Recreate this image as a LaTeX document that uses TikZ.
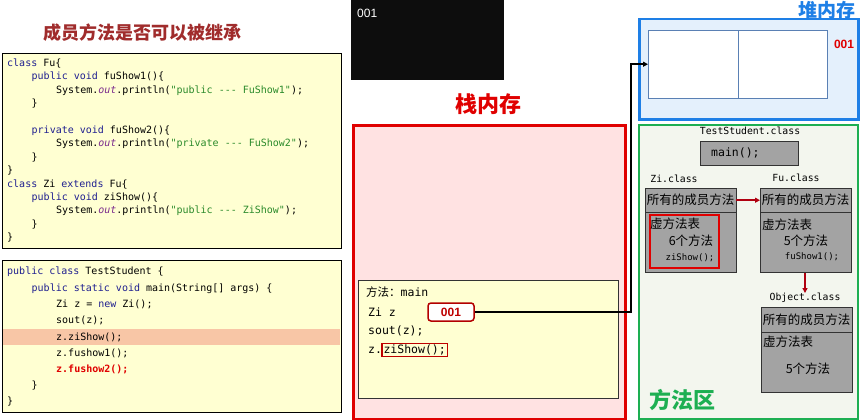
\documentclass[tikz,border=0pt]{standalone}
\usepackage{fontspec}
\setmainfont{Liberation Sans}
\setmonofont{DejaVu Sans Mono}
\newfontfamily\cjk{Noto Sans CJK SC}
\usepackage{xcolor}
\usetikzlibrary{arrows.meta, positioning, calc}

\definecolor{kwblue}{HTML}{202090}
\definecolor{strgreen}{HTML}{2A8A2A}
\definecolor{fldpurple}{HTML}{7A2A8C}
\definecolor{codebg}{HTML}{FFFFD2}
\definecolor{hlrow}{HTML}{F8C6A6}
\definecolor{titlered}{HTML}{A02C2C}
\definecolor{stackred}{HTML}{E00000}
\definecolor{stackbg}{HTML}{FFE2E2}
\definecolor{heapblue}{HTML}{1E7FE6}
\definecolor{heapbg}{HTML}{E4F0FC}
\definecolor{cellblue}{HTML}{5A80B4}
\definecolor{areagreen}{HTML}{1DAF52}
\definecolor{areabg}{HTML}{F3F6EE}
\definecolor{clsgray}{HTML}{A3A3A3}
\definecolor{arrowred}{HTML}{B00010}

\newcommand{\kw}[1]{\textcolor{kwblue}{#1}}
\newcommand{\st}[1]{\textcolor{strgreen}{#1}}
\newcommand{\fo}{\textcolor{fldpurple}{\itshape out}}

\begin{document}
\begin{tikzpicture}[
    x=1pt, y=-1pt,
    codebox/.style={draw, fill=codebg, anchor=north west, inner sep=0pt},
    codeline/.style={anchor=west, inner sep=0pt, font=\ttfamily\fontsize{10}{12}\selectfont},
    bigtitle/.style={font=\cjk\bfseries\fontsize{#1}{#1}\selectfont},
    clshead/.style={draw=black!80, fill=clsgray, anchor=north west, minimum width=91pt, minimum height=24pt, inner sep=0pt, font=\cjk\fontsize{12.5}{13}\selectfont},
    clsbody/.style={draw=black!80, fill=clsgray, minimum width=91pt, minimum height=60pt, inner sep=0pt},
    clslabel/.style={font=\ttfamily\fontsize{9.8}{11}\selectfont, inner sep=0pt},
    cjktext/.style={font=\cjk\fontsize{12.5}{13}\selectfont, inner sep=0pt},
    smallcode/.style={font=\ttfamily\fontsize{9}{10}\selectfont, inner sep=0pt},
    stackline/.style={anchor=west, inner sep=0pt, font=\ttfamily\fontsize{11.5}{13}\selectfont},
    redarrow/.style={-{Triangle[length=5pt, width=5pt]}, line width=1.8pt, color=arrowred}
]
    \useasboundingbox (0,0) rectangle (867,420);

    % left: source code
    \node[bigtitle=18, text=titlered] (title) at (142,33) {成员方法是否可以被继承};

    \node[codebox, minimum width=339pt, minimum height=195pt] (codeA) at (2,53) {};
    \foreach \lvl/\txt [count=\i from 0] in {
        0/{\kw{class} Fu\{},
        1/{\kw{public} \kw{void} fuShow1()\{},
        2/{System.\fo.println(\st{"public --- FuShow1"});},
        1/{\}},
        0/{},
        1/{\kw{private} \kw{void} fuShow2()\{},
        2/{System.\fo.println(\st{"private --- FuShow2"});},
        1/{\}},
        0/{\}},
        0/{\kw{class} Zi \kw{extends} Fu\{},
        1/{\kw{public} \kw{void} ziShow()\{},
        2/{System.\fo.println(\st{"public --- ZiShow"});},
        1/{\}},
        0/{\}}}
        \node[codeline] (codeA-\i) at ({7+24.5*\lvl}, {63.5+13.4*\i}) {\txt};

    \node[codebox, minimum width=339pt, minimum height=152pt] (codeB) at (2,260) {};
    \fill[hlrow] (3,329) rectangle (340,345);
    \foreach \lvl/\txt [count=\i from 0] in {
        0/{\kw{public} \kw{class} TestStudent \{},
        1/{\kw{public} \kw{static} \kw{void} main(String[] args) \{},
        2/{Zi z = \kw{new} Zi();},
        2/{sout(z);},
        2/{z.ziShow();},
        2/{z.fushow1();},
        2/{\textcolor{stackred}{\bfseries z.fushow2();}},
        1/{\}},
        0/{\}}}
        \node[codeline] (codeB-\i) at ({7+24.5*\lvl}, {272+16.25*\i}) {\txt};

    % console
    \node[fill=black!95, anchor=north west, minimum width=153pt, minimum height=80pt, inner sep=0pt] (console) at (351,0) {};
    \node[anchor=west, inner sep=0pt, text=white, font=\fontsize{12}{13}\selectfont] (conOut) at (357,13) {001};

    % stack
    \node[bigtitle=22, text=stackred] (stackTitle) at (488,104) {栈内存};
    \node[draw=stackred, line width=2.5pt, fill=stackbg, anchor=north west, minimum width=272pt, minimum height=294pt, inner sep=0pt] (stack) at (352,124) {};
    \node[draw=black!80, fill=codebg, anchor=north west, minimum width=260pt, minimum height=118pt, inner sep=0pt] (frame) at (358,280) {};
    \node[stackline] (fName) at (366,292) {{\cjk 方法：}main};
    \node[stackline] (varZ) at (368,312) {Zi z};
    \node[draw=stackred!80!black, line width=1.5pt, rounded corners=3pt, fill=white, minimum width=46pt, minimum height=18pt, inner sep=0pt, text=stackred!85!black, font=\bfseries\fontsize{12}{13}\selectfont] (v001) at (451,312) {001};
    \node[stackline] (callSout) at (368,331) {sout(z);};
    \node[stackline] (callZ) at (368,350) {z.};
    \node[stackline, draw=stackred!85!black, line width=1.5pt, inner sep=1.5pt, right=-1pt of callZ] (callZi) {ziShow();};

    % heap
    \node[bigtitle=19, text=heapblue] (heapTitle) at (827,10) {堆内存};
    \node[draw=heapblue, line width=2.5pt, fill=heapbg, anchor=north west, minimum width=219pt, minimum height=100pt, inner sep=0pt] (heap) at (638,18) {};
    \node[draw=cellblue, fill=white, anchor=north west, minimum width=90pt, minimum height=68pt, inner sep=0pt] (cellA) at (648,30) {};
    \node[draw=cellblue, fill=white, anchor=north west, minimum width=89pt, minimum height=68pt, inner sep=0pt] (cellB) at (738,30) {};
    \node[text=stackred, font=\bfseries\fontsize{12}{13}\selectfont, inner sep=0pt] (heapAddr) at (844,44) {001};

    \coordinate (bend) at (631,312);
    \draw[line width=1.8pt, -{Triangle[length=5pt, width=5pt]}] (v001.east) -- (bend) |- (cellA.west);

    % method area
    \node[draw=areagreen, line width=2pt, fill=areabg, anchor=north west, minimum width=219pt, minimum height=294pt, inner sep=0pt] (area) at (638,124) {};
    \node[clslabel] (tsLabel) at (750,131) {TestStudent.class};
    \node[draw=black!80, fill=clsgray, anchor=north west, minimum width=98pt, minimum height=24pt, inner sep=0pt] (mainBox) at (700,141) {};
    \node[anchor=west, inner sep=0pt, font=\ttfamily\fontsize{11.5}{13}\selectfont] (mainTxt) at (711,153) {main();};

    \node[clslabel] (ziLabel) at (674,179) {Zi.class};
    \node[clshead] (ziHead) at (645,188) {所有的成员方法};
    \node[clsbody, below=0pt of ziHead] (ziBody) {};
    \node[draw=stackred, line width=1.5pt, anchor=north west, minimum width=69pt, minimum height=53pt, inner sep=0pt] (ziVtab) at (649,214) {};
    \node[cjktext, anchor=west] (ziV1) at (650,224) {虚方法表};
    \node[cjktext] (ziV2) at (691,241) {6个方法};
    \node[smallcode] (ziV3) at (690,258) {ziShow();};

    \node[clslabel] (fuLabel) at (796,178) {Fu.class};
    \node[clshead] (fuHead) at (760,188) {所有的成员方法};
    \node[clsbody, below=0pt of fuHead] (fuBody) {};
    \node[cjktext, anchor=west] (fuV1) at (762,225) {虚方法表};
    \node[cjktext] (fuV2) at (806,241) {5个方法};
    \node[smallcode] (fuV3) at (812,257) {fuShow1();};

    \node[clslabel] (objLabel) at (805,298) {Object.class};
    \node[clshead, minimum height=25pt] (objHead) at (761,307) {所有的成员方法};
    \node[clsbody, below=0pt of objHead] (objBody) {};
    \node[cjktext, anchor=west] (objV1) at (763,342) {虚方法表};
    \node[cjktext] (objV2) at (808,369) {5个方法};

    \draw[redarrow] (ziHead.east) -- (fuHead.west);
    \draw[redarrow] (fuBody.south -| objLabel) -- (objLabel.north);

    \node[bigtitle=22, text=areagreen] (areaTitle) at (682,400) {方法区};
\end{tikzpicture}
\end{document}
